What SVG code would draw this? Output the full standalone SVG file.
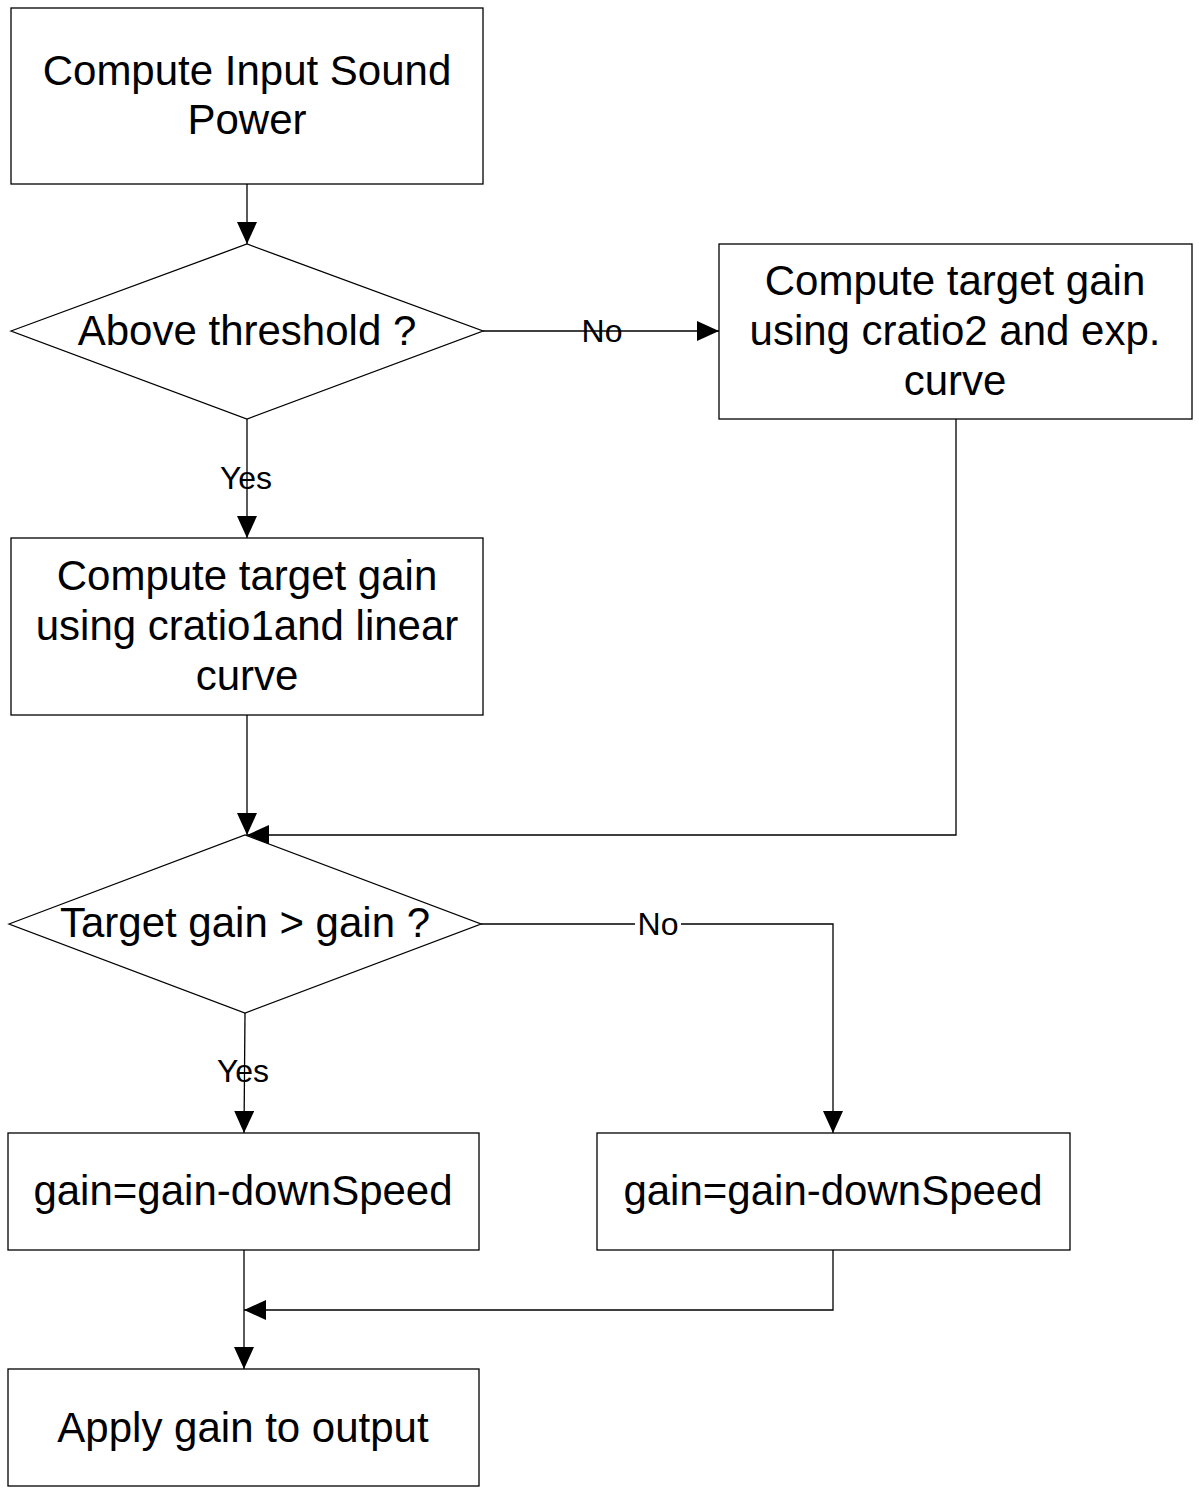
<svg xmlns="http://www.w3.org/2000/svg" width="1199" height="1495" viewBox="0 0 1199 1495">
<defs>
<marker id="ah" markerWidth="22" markerHeight="20" refX="22" refY="10" orient="auto" markerUnits="userSpaceOnUse">
<path d="M0,0 L22,10 L0,20 Z" fill="#000"/>
</marker>
<style>
.box{fill:#fff;stroke:#000;stroke-width:1.3}
.t{font-family:"Liberation Sans",Arial,sans-serif;font-size:42px;text-anchor:middle;fill:#000}
.l{font-family:"Liberation Sans",Arial,sans-serif;font-size:32px;text-anchor:middle;fill:#000}
.c{fill:none;stroke:#000;stroke-width:1.3}
</style>
</defs>
<rect width="1199" height="1495" fill="#fff"/>
<g id="connectors">
<path class="c" d="M247,184 V244" marker-end="url(#ah)"/>
<path class="c" d="M483,331 H719" marker-end="url(#ah)"/>
<path class="c" d="M247,419 V538" marker-end="url(#ah)"/>
<path class="c" d="M247,715 V835" marker-end="url(#ah)"/>
<path class="c" d="M956,419 V835 H247" marker-end="url(#ah)"/>
<path class="c" d="M481,924 H833 V1133" marker-end="url(#ah)"/>
<path class="c" d="M245,1013 L244,1133" marker-end="url(#ah)"/>
<path class="c" d="M244,1250 V1369" marker-end="url(#ah)"/>
<path class="c" d="M833,1250 V1310 H244" marker-end="url(#ah)"/>
<text class="l" x="602" y="342">No</text>
<rect x="635" y="905" width="46" height="36" fill="#fff"/>
<text class="l" x="658" y="935">No</text>
<text class="l" x="246" y="489">Yes</text>
<text class="l" x="243" y="1082">Yes</text>
</g>
<g id="n1">
<rect class="box" x="11" y="8" width="472" height="176"/>
<text class="t" x="247" y="85">Compute Input Sound</text>
<text class="t" x="247" y="134">Power</text>
</g>
<g id="d1">
<polygon class="box" points="11,331 247,244 483,331 247,419"/>
<text class="t" x="247" y="345">Above threshold ?</text>
</g>
<g id="n2">
<rect class="box" x="719" y="244" width="473" height="175"/>
<text class="t" x="955" y="295">Compute target gain</text>
<text class="t" x="955" y="345">using cratio2 and exp.</text>
<text class="t" x="955" y="395">curve</text>
</g>
<g id="n3">
<rect class="box" x="11" y="538" width="472" height="177"/>
<text class="t" x="247" y="590">Compute target gain</text>
<text class="t" x="247" y="640">using cratio1and linear</text>
<text class="t" x="247" y="690">curve</text>
</g>
<g id="d2">
<polygon class="box" points="9,924 245,835 481,924 245,1013"/>
<text class="t" x="245" y="937">Target gain &gt; gain ?</text>
</g>
<g id="n4">
<rect class="box" x="8" y="1133" width="471" height="117"/>
<text class="t" x="243" y="1205">gain=gain-downSpeed</text>
</g>
<g id="n5">
<rect class="box" x="597" y="1133" width="473" height="117"/>
<text class="t" x="833" y="1205">gain=gain-downSpeed</text>
</g>
<g id="n6">
<rect class="box" x="8" y="1369" width="471" height="117"/>
<text class="t" x="243" y="1442">Apply gain to output</text>
</g>
</svg>
